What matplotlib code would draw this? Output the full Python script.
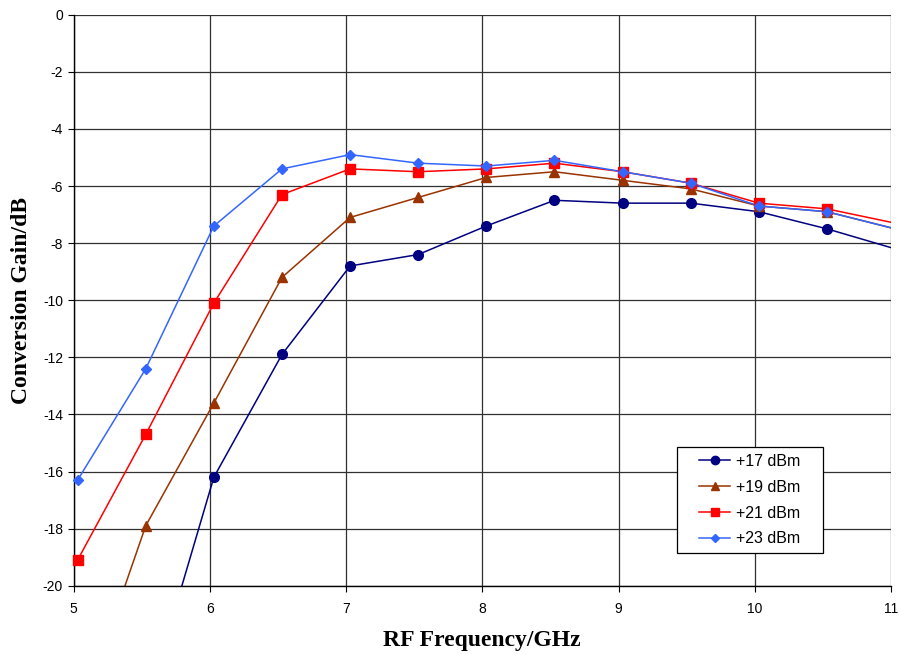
import numpy as np
import matplotlib.pyplot as plt
from matplotlib.patches import Rectangle

# Data
freq = [5.03, 5.53, 6.03, 6.53, 7.03, 7.53, 8.03, 8.53, 9.03, 9.53, 10.03, 10.53, 11.03]

gain_17 = [np.nan, -24.3, -16.2, -11.9, -8.8, -8.4, -7.4, -6.5, -6.6, -6.6, -6.9, -7.5, -8.2]
gain_19 = [-24.8, -17.9, -13.6, -9.2, -7.1, -6.4, -5.7, -5.5, -5.8, -6.1, -6.7, -6.9, -7.5]
gain_21 = [-19.1, -14.7, -10.1, -6.3, -5.4, -5.5, -5.4, -5.2, -5.5, -5.9, -6.6, -6.8, -7.3]
gain_23 = [-16.3, -12.4, -7.4, -5.4, -4.9, -5.2, -5.3, -5.1, -5.5, -5.9, -6.7, -6.9, -7.5]

series = [
    ('+17 dBm', gain_17, '#000080', 'o', 7),
    ('+19 dBm', gain_19, '#993300', '^', 7),
    ('+21 dBm', gain_21, '#FF0000', 's', 7),
    ('+23 dBm', gain_23, '#3366FF', 'D', 5),
]

plt.rcParams['font.family'] = 'Liberation Sans'
plt.rcParams['axes.unicode_minus'] = False

xmin, xmax, ymin, ymax = 5, 11, -20, 0

fig = plt.figure(figsize=(9, 6.54), dpi=100)
ax = fig.add_axes([0.0817, 0.1044, 0.9083, 0.8731])

x = np.array(freq)
for label, vals, col, mk, ms in series:
    y = np.array(vals)
    # line clipped at the plot area
    ax.plot(x, y, color=col, linewidth=1.1)
    # markers only for points inside the range, not clipped
    inside = (x >= xmin) & (x <= xmax) & (y >= ymin) & (y <= ymax)
    ax.plot(x[inside], y[inside], linestyle='none', color=col, marker=mk,
            markersize=ms, clip_on=False, zorder=3)
    # legend proxy
    ax.plot([], [], color=col, marker=mk, markersize=ms - 1, linewidth=1.1,
            label=label)

ax.set_xlim(xmin, xmax)
ax.set_ylim(ymin, ymax)
ax.set_xticks(np.arange(5, 12, 1))
ax.set_yticks(np.arange(-20, 1, 2))
ax.grid(True, color='#303030', linewidth=0.9)
ax.set_axisbelow(True)

for side in ['top', 'right']:
    ax.spines[side].set_visible(False)
for side in ['left', 'bottom']:
    ax.spines[side].set_color('black')
    ax.spines[side].set_linewidth(1.0)

ax.tick_params(axis='both', labelsize=10, direction='out', length=4, color='black')
ax.tick_params(axis='x', pad=8)

ax.set_xlabel('RF Frequency/GHz', family='Liberation Serif', fontsize=17,
              fontweight='bold', labelpad=10)
ax.set_ylabel('Conversion Gain/dB', family='Liberation Serif', fontsize=17,
              fontweight='bold', labelpad=8)

# legend box, wider than the legend content (as in the original)
box = (0.738, 0.057, 0.179, 0.186)
ax.add_patch(Rectangle(box[:2], box[2], box[3], transform=ax.transAxes,
                       facecolor='white', edgecolor='black', linewidth=0.9,
                       zorder=4))
leg = ax.legend(loc='center', bbox_to_anchor=(box[0] + box[2] / 2, box[1] + box[3] / 2),
                fontsize=11.5, frameon=False, handlelength=1.9,
                handletextpad=0.4, borderpad=0.3, labelspacing=0.68)
leg.set_zorder(5)

plt.savefig('out.png', dpi=100)
